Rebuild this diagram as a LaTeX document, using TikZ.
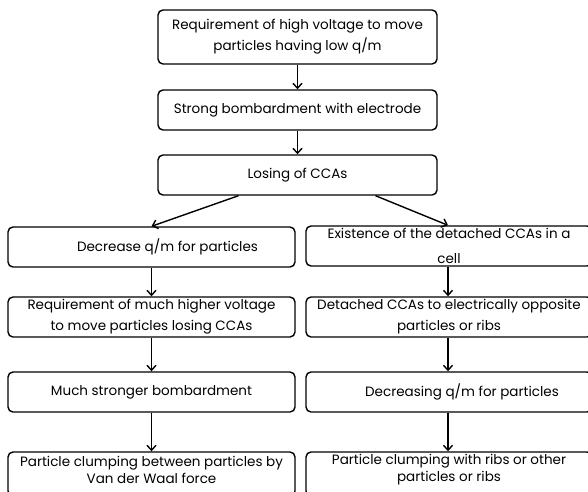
\documentclass[tikz,border=0pt]{standalone}
\usepackage{fontspec}
\setmainfont{Poppins}
\usetikzlibrary{arrows.meta}
\begin{document}
\begin{tikzpicture}[x=1pt,y=-1pt,
  box/.style={draw, line width=1.4pt, rounded corners=5pt, align=center, inner sep=0pt,
    font=\fontsize{13.5}{21}\selectfont},
  txt/.style={align=center, inner sep=0pt, font=\fontsize{13.5}{17}\selectfont},
  arr/.style={line width=1.4pt, -{Straight Barb[length=5pt,width=9pt,line width=1.4pt]}}]
\clip (0,0) rectangle (588,491);
\fill[white] (0,0) rectangle (588,491);
\node[box, minimum width=279pt, minimum height=54pt] (b1) at (297.5,37) {Requirement of high voltage to move\\particles having low q/m};
\node[box, minimum width=279pt, minimum height=40pt] (b2) at (297.5,110) {Strong bombardment with electrode};
\node[box, minimum width=279pt, minimum height=40pt] (b3) at (297.5,175) {Losing of CCAs};
\node[box, minimum width=287pt, minimum height=40pt] (L1) at (151.5,247) {\hspace*{32pt}Decrease q/m for particles};
\node[box, minimum width=287pt, minimum height=40pt] (L2) at (151.5,317) {Requirement of much higher voltage\\to move particles losing CCAs};
\node[box, minimum width=287pt, minimum height=40pt] (L3) at (151.5,392) {Much stronger bombardment};
\node[box, minimum width=287pt, minimum height=44pt] (L4) at (151.5,474) {};
\node[txt] (L4t) at (151.5,469.5) {Particle clumping between particles by\\Van der Waal force};
\node[box, minimum width=286pt, minimum height=40pt] (R1) at (449,246) {Existence of the detached CCAs in a\\[4pt]cell};
\node[box, minimum width=286pt, minimum height=40pt] (R2) at (449,317) {Detached CCAs to electrically opposite\\particles or ribs};
\node[box, minimum width=286pt, minimum height=40pt] (R3) at (449,392) {\hspace*{26pt}Decreasing q/m for particles};
\node[box, minimum width=286pt, minimum height=44pt] (R4) at (449,474) {};
\node[txt] (R4t) at (449,469.5) {Particle clumping with ribs or other\\particles or ribs};
\draw[arr] (b1.south) -- (b2.north);
\draw[arr] (b2.south) -- (b3.north);
\draw[arr] ([xshift=-59pt]b3.south) -- (L1.north);
\draw[arr] ([xshift=78pt]b3.south) -- ([xshift=-1pt]R1.north);
\draw[arr] (L1.south) -- (L2.north);
\draw[arr] (L2.south) -- (L3.north);
\draw[arr] (L3.south) -- (L4.north);
\draw[arr] ([xshift=-1pt]R1.south) -- ([xshift=-1pt]R2.north);
\draw[arr] ([xshift=-1pt]R2.south) -- ([xshift=-1pt]R3.north);
\draw[arr] ([xshift=-1pt]R3.south) -- ([xshift=-1pt]R4.north);
\end{tikzpicture}
\end{document}
